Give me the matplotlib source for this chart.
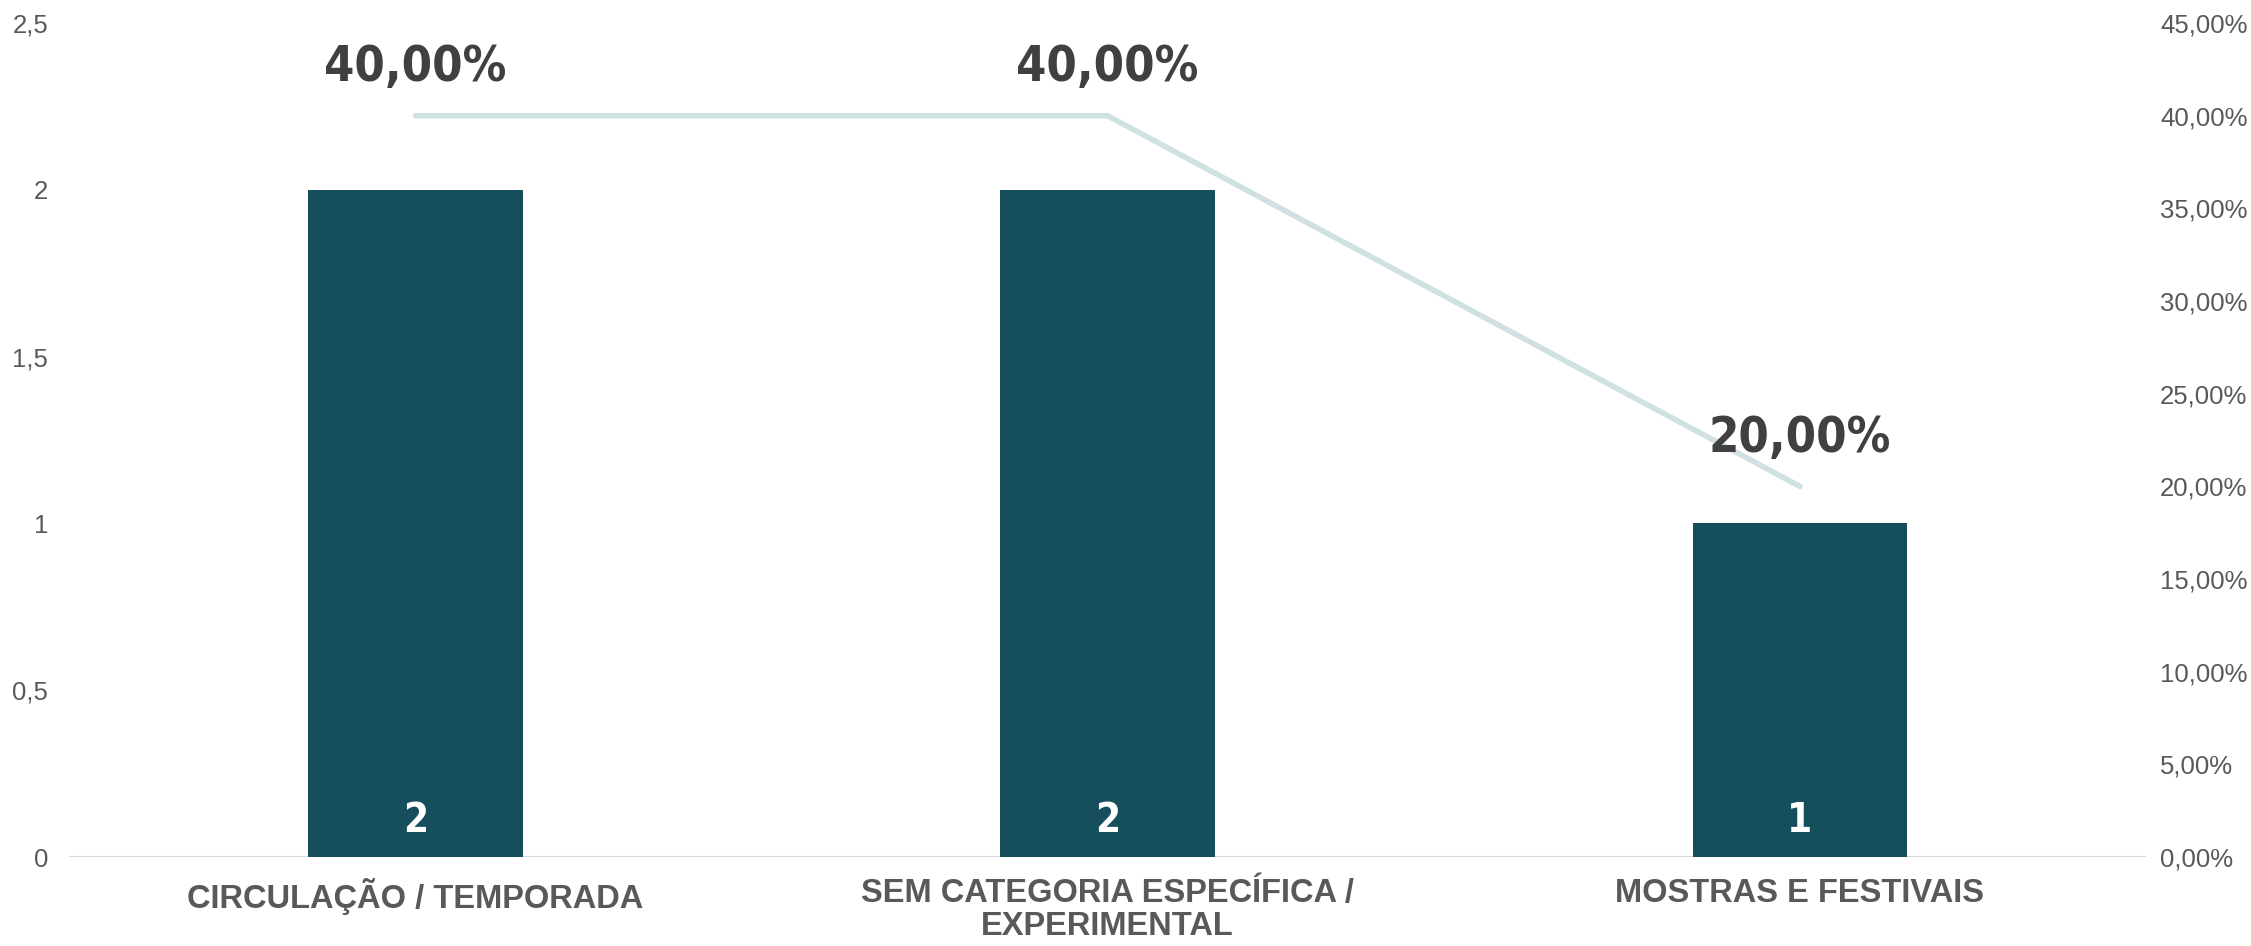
import matplotlib.pyplot as plt
from matplotlib.ticker import FuncFormatter

categorias = ['CIRCULAÇÃO / TEMPORADA', 'SEM CATEGORIA ESPECÍFICA /\nEXPERIMENTAL', 'MOSTRAS E FESTIVAIS']
quantidade = [2, 2, 1]
percentual = [0.40, 0.40, 0.20]

cor_barra = '#154F5C'
cor_linha = '#D0E1E4'
cor_texto = '#595959'

plt.rcParams['font.family'] = ['Liberation Sans', 'DejaVu Sans']

fig = plt.figure(figsize=(22.51, 9.46), dpi=100)
ax1 = fig.add_axes([0.0307, 0.094, 0.9227, 0.8816])
ax2 = ax1.twinx()

x = list(range(len(categorias)))
ax1.bar(x, quantidade, width=0.31, color=cor_barra, zorder=2)
ax1.set_xlim(-0.5, 2.5)
ax1.set_ylim(0, 2.5)
ax1.set_yticks([0, 0.5, 1, 1.5, 2, 2.5])
ax1.yaxis.set_major_formatter(FuncFormatter(lambda v, p: f'{v:g}'.replace('.', ',')))

for xi, q in zip(x, quantidade):
    ax1.annotate(str(q), (xi, 0), xytext=(0, 26), textcoords='offset points',
                 ha='center', va='center', color='white', fontsize=29,
                 fontweight='bold', family='DejaVu Sans', stretch='condensed')

ax2.plot(x, percentual, color=cor_linha, lw=4, solid_capstyle='round', zorder=3)
ax2.set_ylim(0, 0.45)
ax2.set_yticks([i * 0.05 for i in range(10)])
ax2.yaxis.set_major_formatter(FuncFormatter(lambda v, p: f'{v*100:.2f}%'.replace('.', ',')))

for xi, pc in zip(x, percentual):
    ax2.annotate(f'{pc*100:.2f}%'.replace('.', ','), (xi, pc), xytext=(0, 35),
                 textcoords='offset points', ha='center', va='center',
                 color='#404040', fontsize=35, fontweight='bold',
                 family='DejaVu Sans', stretch='condensed')

for ax in (ax1, ax2):
    for s in ('top', 'left', 'right', 'bottom'):
        ax.spines[s].set_visible(False)
    ax.tick_params(length=0, labelsize=18.5, labelcolor=cor_texto)
ax1.tick_params(axis='y', pad=15)
ax2.tick_params(axis='y', pad=10)
ax1.set_xticks(x)
ax1.set_xticklabels(categorias, fontsize=23.5, fontweight='bold', color=cor_texto, linespacing=1.1)
ax1.tick_params(axis='x', pad=15)
ax1.axhline(0, color='#D9D9D9', lw=1.5, zorder=1)

fig.savefig('out.png', dpi=100)
